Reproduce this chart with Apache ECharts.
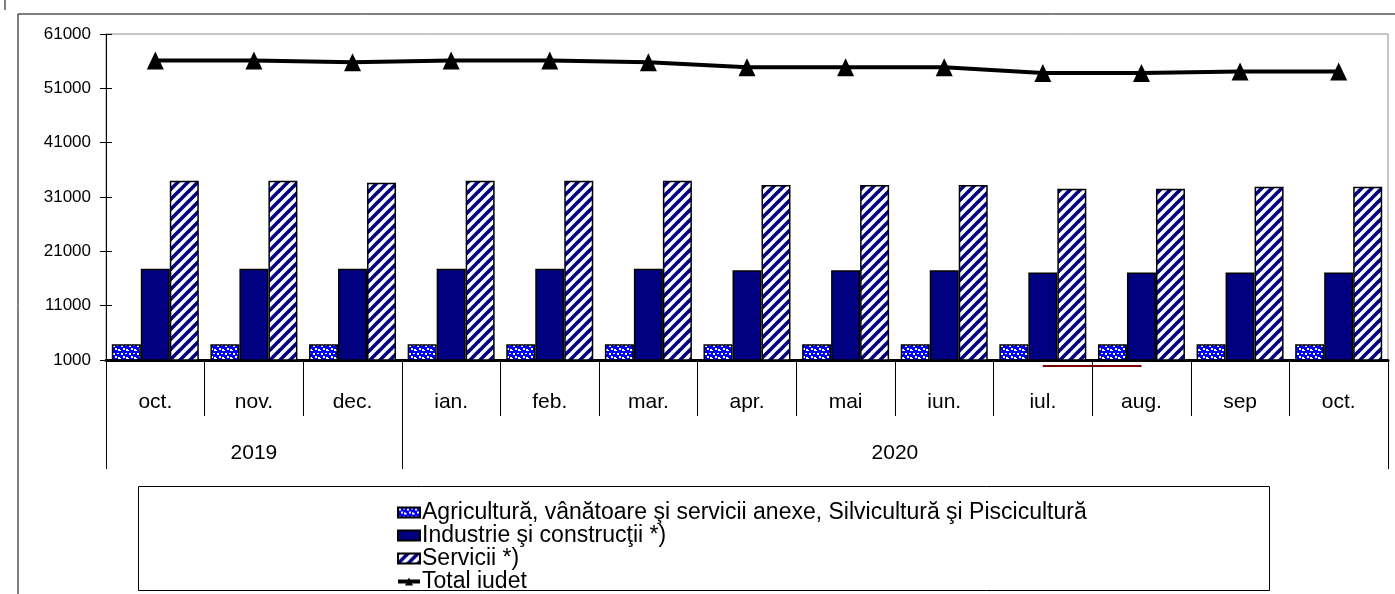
<!DOCTYPE html>
<html><head><meta charset="utf-8">
<script src="https://cdn.jsdelivr.net/npm/echarts@6/dist/echarts.min.js"></script>
<style>html,body{margin:0;padding:0;background:#fff}#c{width:1395px;height:594px}</style>
</head><body><div id="c"></div>
<script>
const months = ['oct.','nov.','dec.','ian.','feb.','mar.','apr.','mai','iun.','iul.','aug.','sep','oct.'];
const years = ['2019','2020'];
const yearSpans = [3, 10];
const yTicks = [1000,11000,21000,31000,41000,51000,61000];
const agricultura = [3900,3900,3900,3900,3900,3900,3900,3900,3900,3900,3900,3900,3900];
const industrie = [17800,17800,17800,17800,17800,17800,17500,17500,17500,17100,17100,17100,17100];
const servicii = [34000,34000,33600,34000,34000,34000,33200,33200,33200,32500,32500,32900,32900];
const totalJudet = [56100,56100,55800,56100,56100,55800,54900,54900,54900,53800,53800,54100,54100];
const seriesNames = ['Agricultură, vânătoare şi servicii anexe, Silvicultură şi Piscicultură','Industrie şi construcţii *)','Servicii *)','Total iudet'];

function mk(w,h,draw){const c=document.createElement('canvas');c.width=w;c.height=h;draw(c.getContext('2d'));return c;}
const agriPat = mk(8,8,ctx=>{
  ctx.fillStyle='#0000ff';ctx.fillRect(0,0,8,8);
  ctx.fillStyle='#ffffff';
  ctx.fillRect(1,1,2,2);ctx.fillRect(5,1,2,1);ctx.fillRect(3,4,2,2);ctx.fillRect(6,5,2,2);ctx.fillRect(0,6,1,1);
});
const servPat = mk(10,10,ctx=>{
  ctx.fillStyle='#ffffff';ctx.fillRect(0,0,10,10);
  ctx.strokeStyle='#000080';ctx.lineWidth=3.6;
  [[-5,5,5,-5],[0,10,10,0],[5,15,15,5]].forEach(l=>{ctx.beginPath();ctx.moveTo(l[0],l[1]);ctx.lineTo(l[2],l[3]);ctx.stroke();});
});

const FONT = "'Liberation Sans'";
let cum=0; const yearLabelPos=[]; const yearTickPos=[0];
yearSpans.forEach(s=>{yearLabelPos.push(cum+s/2);cum+=s;yearTickPos.push(cum);});

const chart = echarts.init(document.getElementById('c'));
const option = {
  animation:false,
  textStyle:{fontFamily:FONT,color:'#000'},
  grid:{left:106,right:7,top:34,bottom:234,show:true,borderColor:'#8c8c8c',borderWidth:1,backgroundColor:'transparent'},
  legend:{
    orient:'vertical',left:391,top:496,height:120,itemWidth:22,itemHeight:10,itemGap:0,
    textStyle:{fontFamily:FONT,fontSize:23,color:'#000',lineHeight:23,padding:[0,0,0,-3]},
    data:[{name:seriesNames[0],icon:'rect'},{name:seriesNames[1],icon:'rect'},{name:seriesNames[2],icon:'rect'},
          {name:seriesNames[3],lineStyle:{width:4,color:'#000'}}]
  },
  xAxis:[
    {type:'category',data:months,position:'bottom',
     axisLine:{show:true,lineStyle:{color:'#000',width:3}},
     axisTick:{show:true,interval:0,length:56,lineStyle:{color:'#000',width:1}},
     axisLabel:{interval:0,margin:32,fontSize:21,color:'#000',fontFamily:FONT}},
    {type:'value',min:0,max:13,position:'bottom',
     axisLine:{show:false},splitLine:{show:false},
     axisTick:{show:true,customValues:yearTickPos,length:109,lineStyle:{color:'#000',width:1}},
     axisLabel:{customValues:yearLabelPos,margin:83,fontSize:21,color:'#000',fontFamily:FONT,
       formatter:v=>{const i=yearLabelPos.indexOf(v);return i>=0?years[i]:'';}}}
  ],
  yAxis:[
    {type:'value',min:1000,max:61000,splitLine:{show:false},
    axisLine:{show:true,lineStyle:{color:'#000',width:1}},
    axisTick:{show:true,customValues:yTicks,length:6,lineStyle:{color:'#000'}},
    axisLabel:{customValues:yTicks,margin:15,fontSize:17,color:'#000',fontFamily:FONT,formatter:v=>String(v)}},
    {type:'value',min:1000,max:61000,position:'left',splitLine:{show:false},
    axisLine:{show:false},
    axisTick:{show:true,inside:true,customValues:yTicks,length:6,lineStyle:{color:'#000'}},
    axisLabel:{show:false}}
  ],
  series:[
    {type:'bar',name:seriesNames[0],data:agricultura,barWidth:29,barGap:'0%',
     itemStyle:{color:{image:agriPat,repeat:'repeat'},borderColor:'#000',borderWidth:1.5}},
    {type:'bar',name:seriesNames[1],data:industrie,barWidth:29,barGap:'0%',
     itemStyle:{color:'#000080',borderColor:'#000',borderWidth:1.5}},
    {type:'bar',name:seriesNames[2],data:servicii,barWidth:29,barGap:'0%',
     itemStyle:{color:{image:servPat,repeat:'repeat'},borderColor:'#000',borderWidth:1.5}},
    {type:'line',name:seriesNames[3],data:totalJudet,symbol:'triangle',symbolSize:[17,18],
     lineStyle:{color:'#000',width:4},itemStyle:{color:'#000'},z:5}
  ]
};
chart.setOption(option);
const p9 = chart.convertToPixel({xAxisIndex:0,yAxisIndex:0},[9,1000]);
const p10 = chart.convertToPixel({xAxisIndex:0,yAxisIndex:0},[10,1000]);
chart.setOption({graphic:[
  {type:'rect',shape:{x:18,y:14,width:1400,height:600},style:{fill:'none',stroke:'#000',lineWidth:1},silent:true},
  {type:'line',shape:{x1:5,y1:0,x2:5,y2:10},style:{stroke:'#000',lineWidth:1}},
  {type:'rect',shape:{x:138.5,y:486.5,width:1131,height:104},style:{fill:'none',stroke:'#000',lineWidth:1},silent:true,z:-1},
  {type:'line',shape:{x1:p9[0],y1:p9[1]+6,x2:p10[0],y2:p10[1]+6},style:{stroke:'#800000',lineWidth:2}}
]});
</script></body></html>
